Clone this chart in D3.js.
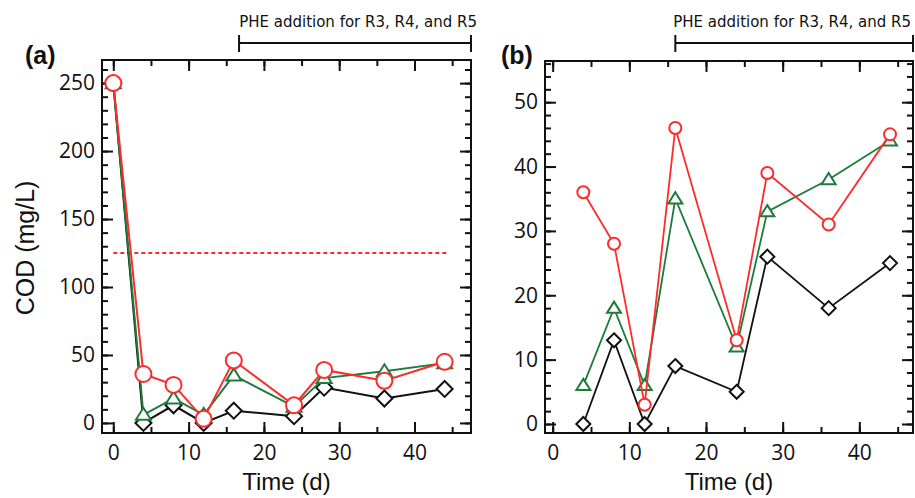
<!DOCTYPE html>
<html>
<head>
<meta charset="utf-8">
<script src="https://cdn.jsdelivr.net/npm/d3@7"></script>
<style>
  body { margin: 0; background: #fff; }
  svg { display: block; }
</style>
</head>
<body>
<script>
var W = 915, H = 498;

// data
var daysA = [0, 4, 8, 12, 16, 24, 28, 36, 44];
var blackA = [250, 0, 13, 0, 9, 5, 26, 18, 25];
var greenA = [250, 6, 18, 6, 35, 12, 33, 38, 44];
var redA = [250, 36, 28, 3, 46, 13, 39, 31, 45];

var daysB = [4, 8, 12, 16, 24, 28, 36, 44];
var blackB = [0, 13, 0, 9, 5, 26, 18, 25];
var greenB = [6, 18, 6, 35, 12, 33, 38, 44];
var redB = [36, 28, 3, 46, 13, 39, 31, 45];

var thresholdA = 125;
var thresholdDays = [0, 44.3];
var pheLabel = "PHE addition for R3, R4, and R5";
var pheStartA = 16.7, pheStartB = 16;

var yTicksA = [0, 50, 100, 150, 200, 250];
var yTicksB = [0, 10, 20, 30, 40, 50];
var xTicks = [0, 10, 20, 30, 40];

var svg = d3.select("body").append("svg")
  .attr("width", W)
  .attr("height", H);

var tickFont = "'Open Sans', sans-serif";

function drawPanel(p) {
  var x = d3.scaleLinear().domain(p.xDomain).range([p.left, p.right]);
  var y = d3.scaleLinear().domain(p.yDomain).range([p.bottom, p.top]);
  var g = svg.append("g");

  // minor ticks
  var minorX = d3.range(0, p.xDomain[1], 5);
  var minorY = d3.range(0, p.yDomain[1], p.yMinor);

  function ticks(axis, tr, vals, size, labels, pad) {
    var a = g.append("g")
      .attr("transform", tr)
      .call(axis.tickValues(vals).tickSize(-size).tickPadding(pad || 3)
        .tickFormat(labels ? d3.format("d") : ""));
    a.select(".domain").remove();
    a.selectAll("line").attr("stroke", "#111").attr("stroke-width", 2);
    a.selectAll("text")
      .style("font-family", tickFont)
      .style("font-size", "21px")
      .attr("fill", "#111");
  }

  ticks(d3.axisBottom(x), "translate(0," + p.bottom + ")", minorX, 6, false);
  ticks(d3.axisTop(x), "translate(0," + p.top + ")", minorX, 6, false);
  ticks(d3.axisLeft(y), "translate(" + p.left + ",0)", minorY, 6, false);
  ticks(d3.axisRight(y), "translate(" + p.right + ",0)", minorY, 6, false);

  ticks(d3.axisBottom(x), "translate(0," + p.bottom + ")", xTicks, 11, true, 12);
  ticks(d3.axisTop(x), "translate(0," + p.top + ")", xTicks, 11, false);
  ticks(d3.axisLeft(y), "translate(" + p.left + ",0)", p.yTicks, 11, true, 7);
  ticks(d3.axisRight(y), "translate(" + p.right + ",0)", p.yTicks, 11, false);

  // frame
  g.append("rect")
    .attr("x", p.left).attr("y", p.top)
    .attr("width", p.right - p.left).attr("height", p.bottom - p.top)
    .attr("fill", "none").attr("stroke", "#111").attr("stroke-width", 2);

  // dashed threshold
  if (p.threshold != null) {
    g.append("line")
      .attr("x1", x(thresholdDays[0])).attr("x2", x(thresholdDays[1]))
      .attr("y1", y(p.threshold)).attr("y2", y(p.threshold))
      .attr("stroke", "#ff2a2a").attr("stroke-width", 2)
      .attr("stroke-dasharray", "4,3");
  }

  var line = d3.line()
    .x(function(d) { return x(d[0]); })
    .y(function(d) { return y(d[1]); });

  p.series.forEach(function(s) {
    var pts = p.days.map(function(d, i) { return [d, s.values[i]]; });
    g.append("path")
      .datum(pts)
      .attr("d", line)
      .attr("fill", "none")
      .attr("stroke", s.color)
      .attr("stroke-width", p.lineWidth);

    var m = g.append("g").selectAll("path")
      .data(pts)
      .enter()
      .append("path")
        .attr("transform", function(d) { return "translate(" + x(d[0]) + "," + y(d[1]) + ")"; })
        .attr("fill", "#fff")
        .attr("stroke", s.color)
        .attr("stroke-width", 2);
    var r = p.marker[s.shape];
    if (s.shape == "circle") {
      m.attr("d", "M" + (-r) + ",0A" + r + "," + r + " 0 1,0 " + r + ",0A" + r + "," + r + " 0 1,0 " + (-r) + ",0Z");
    } else if (s.shape == "diamond") {
      m.attr("d", "M0," + (-r) + "L" + r + ",0L0," + r + "L" + (-r) + ",0Z");
    } else {
      var h = r * 1.6;
      m.attr("d", "M0," + (-h * 0.58) + "L" + (r) + "," + (h * 0.42) + "L" + (-r) + "," + (h * 0.42) + "Z");
    }
  });

  // PHE annotation bar
  var by = 43;
  var bx1 = x(p.pheStart), bx2 = p.right;
  g.append("line").attr("x1", bx1).attr("x2", bx2).attr("y1", by).attr("y2", by)
    .attr("stroke", "#111").attr("stroke-width", 2);
  [bx1, bx2].forEach(function(bx) {
    g.append("line").attr("x1", bx).attr("x2", bx).attr("y1", by - 8).attr("y2", by + 9)
      .attr("stroke", "#111").attr("stroke-width", 2);
  });
  g.append("text")
    .attr("x", p.right + p.labelShift).attr("y", 27)
    .attr("text-anchor", "end")
    .style("font-family", "'DejaVu Sans', sans-serif")
    .style("font-size", "15px")
    .attr("fill", "#111")
    .text(pheLabel);

  // panel letter
  g.append("text")
    .attr("x", p.letterX).attr("y", 64)
    .style("font-family", "'Liberation Sans', Arial, sans-serif")
    .style("font-size", "25px")
    .style("font-weight", "bold")
    .attr("fill", "#111")
    .text(p.letter);

  // x-axis title
  g.append("text")
    .attr("x", (p.left + p.right) / 2).attr("y", 490)
    .attr("text-anchor", "middle")
    .style("font-family", "'Liberation Sans', Arial, sans-serif")
    .style("font-size", "24px")
    .attr("fill", "#111")
    .text("Time (d)");
}

drawPanel({
  left: 102, right: 471, top: 60, bottom: 433,
  xDomain: [-1.5, 47.5], yDomain: [-7.4, 267],
  yTicks: yTicksA, yMinor: 10,
  days: daysA,
  series: [
    {values: blackA, color: "#111", shape: "diamond"},
    {values: greenA, color: "#1e7b3c", shape: "triangle"},
    {values: redA, color: "#ff2a2a", shape: "circle"}
  ],
  marker: {circle: 8, diamond: 8, triangle: 7.5},
  lineWidth: 2,
  threshold: thresholdA,
  pheStart: pheStartA, labelShift: 6,
  letter: "(a)", letterX: 25
});

drawPanel({
  left: 545, right: 913, top: 61, bottom: 433,
  xDomain: [-1, 47], yDomain: [-1.4, 56.4],
  yTicks: yTicksB, yMinor: 2,
  days: daysB,
  series: [
    {values: blackB, color: "#111", shape: "diamond"},
    {values: greenB, color: "#1e7b3c", shape: "triangle"},
    {values: redB, color: "#ff2a2a", shape: "circle"}
  ],
  marker: {circle: 6, diamond: 7, triangle: 7},
  lineWidth: 1.8,
  threshold: null,
  pheStart: pheStartB, labelShift: -2,
  letter: "(b)", letterX: 501
});

// y-axis title
svg.append("text")
  .attr("transform", "translate(34,248) rotate(-90)")
  .attr("text-anchor", "middle")
  .style("font-family", "'Liberation Sans', Arial, sans-serif")
  .style("font-size", "25px")
  .attr("fill", "#111")
  .text("COD (mg/L)");
</script>
</body>
</html>
